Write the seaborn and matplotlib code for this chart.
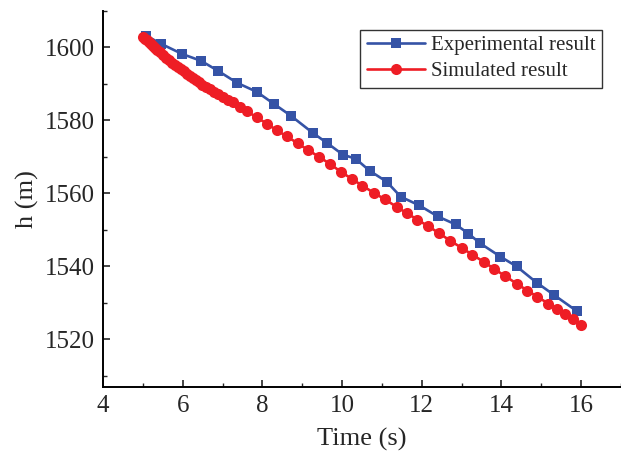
import pandas as pd
import seaborn as sns
import matplotlib.pyplot as plt
from matplotlib.ticker import MultipleLocator

# experimental points (blue squares)
exp_time = [5.08, 5.45, 5.98, 6.46, 6.88, 7.36, 7.86, 8.29, 8.71, 9.26, 9.61, 10.02,
            10.34, 10.69, 11.12, 11.47, 11.94, 12.40, 12.85, 13.17, 13.47, 13.97,
            14.38, 14.88, 15.33, 15.90]
exp_h = [1603.2, 1601.0, 1598.2, 1596.3, 1593.6, 1590.3, 1587.8, 1584.5, 1581.3,
         1576.6, 1573.9, 1570.6, 1569.5, 1566.2, 1563.2, 1559.1, 1556.7, 1553.7,
         1551.5, 1549.0, 1546.3, 1542.7, 1540.0, 1535.6, 1532.1, 1527.7]

# simulated points (red circles)
sim_time = [5.00, 5.05, 5.10, 5.15, 5.20, 5.25, 5.30, 5.35, 5.43, 5.50, 5.58, 5.65,
            5.73, 5.80, 5.88, 5.95, 6.03, 6.11, 6.18, 6.26, 6.33, 6.41, 6.48, 6.58,
            6.68, 6.78, 6.88, 7.01, 7.13, 7.26, 7.43, 7.61, 7.86, 8.11, 8.36, 8.61,
            8.89, 9.14, 9.41, 9.69, 9.96, 10.24, 10.51, 10.79, 11.07, 11.37, 11.64,
            11.89, 12.15, 12.42, 12.72, 13.00, 13.27, 13.55, 13.82, 14.10, 14.38,
            14.65, 14.90, 15.18, 15.40, 15.60, 15.80, 16.00]
sim_h = [1602.9, 1602.4, 1601.9, 1601.4, 1600.9, 1600.4, 1599.9, 1599.4, 1598.6,
         1597.9, 1597.1, 1596.4, 1595.8, 1595.2, 1594.6, 1594.0, 1593.4, 1592.8,
         1592.2, 1591.6, 1591.0, 1590.4, 1589.8, 1589.2, 1588.5, 1587.9, 1587.3,
         1586.5, 1585.7, 1584.9, 1583.8, 1582.5, 1580.8, 1579.1, 1577.3, 1575.6,
         1573.7, 1571.9, 1570.1, 1568.1, 1566.0, 1564.0, 1562.1, 1560.2, 1558.4,
         1556.3, 1554.5, 1552.8, 1551.1, 1549.2, 1547.0, 1545.1, 1543.2, 1541.3,
         1539.3, 1537.3, 1535.3, 1533.4, 1531.7, 1529.8, 1528.3, 1526.9, 1525.5,
         1524.1]

df_exp = pd.DataFrame({"time": exp_time, "h": exp_h})
df_sim = pd.DataFrame({"time": sim_time, "h": sim_h})

sns.set_style("ticks")
plt.rcParams["font.family"] = ["Liberation Serif", "DejaVu Serif"]
plt.rcParams["xtick.direction"] = "in"
plt.rcParams["ytick.direction"] = "in"

fig = plt.figure(figsize=(6.21, 4.51), dpi=100)
ax = fig.add_axes([0.166, 0.142, 0.834, 0.834])

sns.lineplot(data=df_exp, x="time", y="h", ax=ax, color="#3553A6", linewidth=1.9,
             marker="s", markersize=7, markeredgewidth=0, label="Experimental result")
sns.lineplot(data=df_sim, x="time", y="h", ax=ax, color="#EE1D25", linewidth=1.9,
             marker="o", markersize=8, markeredgewidth=0, label="Simulated result")

ax.set_xlim(4, 17)
ax.set_ylim(1507, 1610)
ax.xaxis.set_major_locator(MultipleLocator(2))
ax.xaxis.set_minor_locator(MultipleLocator(1))
ax.yaxis.set_major_locator(MultipleLocator(20))
ax.yaxis.set_minor_locator(MultipleLocator(10))
ax.tick_params(which="major", length=5, width=1.2, labelsize=18, pad=6)
ax.tick_params(which="minor", length=3, width=1.0)
for side in ["left", "bottom"]:
    ax.spines[side].set_linewidth(1.4)
    ax.spines[side].set_color("black")
sns.despine(ax=ax)

ax.set_xlabel("Time (s)", fontsize=19, labelpad=8)
ax.set_ylabel("h (m)", fontsize=19, labelpad=4)

leg = ax.legend(loc="upper left", bbox_to_anchor=(0.497, 0.95), fontsize=15,
                frameon=True, fancybox=False, edgecolor="black", handlelength=2.8,
                borderpad=0.3, labelspacing=0.3, handletextpad=0.3, borderaxespad=0)
leg.get_frame().set_linewidth(1.0)

fig.savefig("out.png", dpi=100)
